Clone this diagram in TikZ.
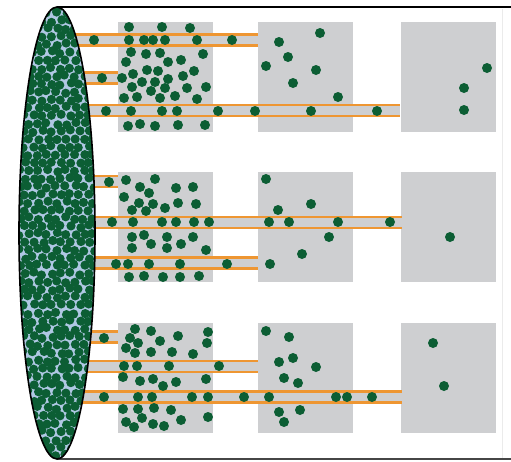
\documentclass[tikz,border=0pt]{standalone}
\usepackage{tikz}

\definecolor{dotgreen}{RGB}{12,94,52}
\definecolor{boxgray}{RGB}{206,207,209}
\definecolor{railorange}{RGB}{238,150,50}
\definecolor{poreblue}{RGB}{176,200,228}
\definecolor{rimgray}{RGB}{70,70,70}

\begin{document}
\begin{tikzpicture}[
  x=1pt, y=-1pt,
  sq/.style={fill=boxgray},
  dt/.style={fill=dotgreen},
  rail/.style={draw=railorange, line width=2.2pt},
  rim/.style={line width=1.6pt}
]
  \useasboundingbox (0,0) rectangle (511,461);

  % grey boxes, three columns by three rows
  \foreach \bx in {118,258,401}
    \foreach \by in {22,172,323}
      \fill[sq] (\bx,\by) rectangle ++(95,110);

  % channels: centre y / end x
  \foreach \cy/\cx in {40/258, 78/118, 110.5/400,
                       181.5/118, 222.5/402, 263/258,
                       337/118, 366.5/258, 397/402} {
    \fill[sq] (57,\cy-5.5) rectangle (\cx,\cy+5.5);
    \draw[rail] (57,\cy-5.5) -- (\cx,\cy-5.5);
    \draw[rail] (57,\cy+5.5) -- (\cx,\cy+5.5);
  }

  % outline of the tube
  \draw[line width=2.4pt] (57,7) -- (511,7);
  \draw[rim, draw=rimgray] (57,459) -- (511,459);
  \draw[draw=black!8, line width=0.8pt] (502,9) -- (502,458);

  % packed end face
  \fill[poreblue] (57,233) ellipse (38pt and 226pt);
  \begin{scope}
    \clip (57,233) ellipse (38pt and 226pt);
    \pgfmathsetseed{41}
    \foreach \j in {0,...,58}
      \foreach \i in {0,...,9} {
        \pgfmathsetmacro\xx{15+9.2*\i+4.6*mod(\j,2)+1.6*rand}
        \pgfmathsetmacro\yy{5+7.9*\j+1.6*rand}
        \fill[dt] (\xx,\yy) circle (4.6pt);
      }
  \end{scope}
  \draw[rim] (57,233) ellipse (38pt and 226pt);

  % particles, top row
  \foreach \px/\py in {129/27,162/27,190/28,
      94/40,129/40,144/40,153/40,165/40,197/40,232/40,
      131/52,146/54,160/53,203/54,126/62,168/62,181/60,
      147/70,158/71,194/71,
      102/78,122/78,133/74,142/82,155/82,168/79,183/76,
      132/87,151/91,187/88,206/87,165/88,
      124/98,137/97,160/98,175/96,197/99,
      106/111,131/111,162/111,177/111,218/111,255/111,
      128/126,140/124,155/126,178/125,205/125,
      320/33,279/42,288/57,266/66,316/70,293/83,338/97,311/111,377/111,
      487/68,464/88,464/110}
    \fill[dt] (\px,\py) circle (5pt);

  % particles, middle row
  \foreach \px/\py in {109/182,126/180,155/179,140/187,176/188,193/187,
      124/197,149/193,139/203,153/204,165/208,178/203,196/204,132/210,146/211,
      112/222,133/222,162/222,176/222,194/222,209/222,
      132/237,144/235,167/237,193/237,
      132/248,151/244,167/248,181/244,206/250,
      116/264,128/264,149/264,180/264,227/264,
      129/277,144/276,163/277,180/277,199/276,
      266/179,311/204,278/210,269/222,289/222,338/222,390/222,
      329/237,302/254,270/264,
      450/237}
    \fill[dt] (\px,\py) circle (5pt);

  % particles, bottom row
  \foreach \px/\py in {104/338,135/329,151/331,178/336,208/332,
      130/338,138/343,126/348,160/341,207/343,
      135/353,151/352,172/352,193/354,
      124/366,137/366,169/366,219/366,
      123/377,140/381,153/379,163/386,176/382,206/379,
      104/397,138/397,152/397,192/397,208/397,244/397,
      123/409,138/409,154/408,171/410,208/417,
      126/422,142/418,134/427,153/424,164/426,181/420,
      266/331,289/337,279/362,293/358,316/367,284/378,298/383,
      269/397,336/397,347/397,372/397,279/412,300/410,284/422,
      433/343,444/386}
    \fill[dt] (\px,\py) circle (5pt);
\end{tikzpicture}
\end{document}
